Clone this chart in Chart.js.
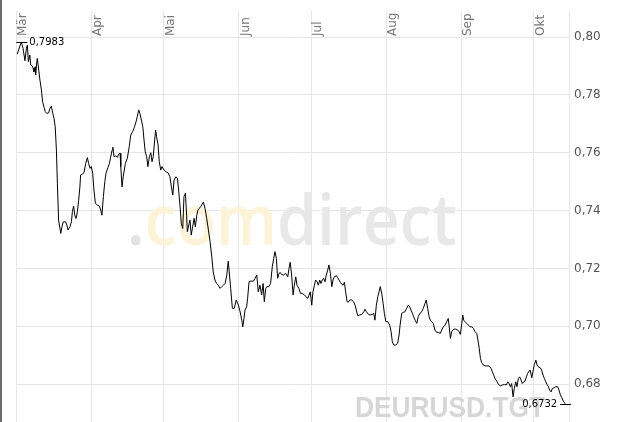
<!DOCTYPE html>
<html>
<head>
<meta charset="utf-8">
<script src="https://cdn.jsdelivr.net/npm/chart.js@4.4.0/dist/chart.umd.min.js"></script>
<style>
  html, body { margin: 0; padding: 0; background: #fff; }
  #wrap { position: relative; width: 621px; height: 422px; box-sizing: border-box; border-left: 2px solid #6b6b6b; overflow: hidden; }
  canvas { display: block; }
</style>
</head>
<body>
<div id="wrap"><canvas id="chart" width="619" height="422"></canvas></div>
<script>
// days since 1 March (2009), DEURUSD.TGT close
const days = [
  0.5, 2.2, 2.9, 3.7, 4.3, 4.7, 5.1, 5.7, 6.1, 6.7, 7.1, 7.4, 7.9, 8.1, 8.6, 8.8, 9.4, 9.9, 10.5, 11.0,
  11.6, 12.1, 12.7, 13.5, 14.0, 14.6, 15.2, 15.7, 16.2, 16.7, 17.1, 17.6, 18.5, 19.0, 19.5, 20.5, 21.0, 21.5, 22.3, 22.9,
  23.3, 23.8, 24.3, 24.8, 25.3, 25.9, 26.4, 26.7, 27.4, 28.1, 28.8, 29.5, 30.0, 30.6, 31.1, 31.7, 32.2, 32.8, 33.6, 34.4,
  35.0, 35.5, 36.1, 36.7, 37.2, 38.0, 38.6, 39.1, 39.7, 40.0, 40.5, 41.2, 41.9, 42.4, 43.0, 43.3, 43.8, 44.3, 45.2, 46.0,
  46.8, 47.4, 48.2, 49.0, 49.6, 50.1, 50.7, 51.2, 51.8, 52.4, 52.9, 53.4, 54.0, 54.5, 55.1, 55.7, 56.2, 56.7, 57.3, 57.7,
  58.1, 58.7, 59.2, 59.8, 60.3, 61.2, 62.0, 62.8, 63.6, 64.2, 64.8, 65.3, 66.1, 66.7, 67.2, 67.8, 68.3, 68.9, 69.4, 70.0,
  70.5, 70.8, 71.4, 71.9, 72.4, 73.0, 73.6, 74.1, 74.7, 75.2, 75.7, 76.3, 77.4, 78.1, 78.8, 79.5, 80.2, 80.9, 81.5, 82.2,
  82.9, 83.6, 84.3, 85.0, 85.7, 86.4, 87.1, 87.7, 88.1, 88.7, 89.4, 90.2, 91.0, 91.9, 92.6, 93.3, 93.7, 94.2, 94.6, 95.3,
  95.7, 96.3, 97.1, 98.1, 98.8, 99.5, 100.1, 100.8, 101.5, 102.1, 102.6, 103.2, 103.7, 104.5, 105.2, 105.9, 106.5, 107.0, 107.6, 108.1,
  108.7, 109.2, 109.8, 110.6, 111.4, 112.3, 112.8, 113.3, 113.9, 114.5, 115.0, 115.6, 116.1, 116.9, 117.5, 118.3, 119.1, 120.0, 120.5, 121.1,
  121.6, 122.2, 122.7, 123.3, 123.8, 124.4, 124.9, 125.5, 126.0, 126.6, 127.1, 127.7, 128.2, 128.8, 129.3, 129.9, 130.5, 131.0, 131.5, 132.4,
  132.9, 133.5, 134.0, 134.6, 135.1, 135.7, 136.2, 136.8, 137.3, 137.9, 138.7, 139.5, 140.1, 140.6, 141.2, 142.0, 142.9, 143.7, 144.2, 144.8,
  145.6, 146.4, 147.2, 147.8, 148.3, 148.9, 149.5, 150.0, 150.5, 151.1, 151.7, 152.2, 152.8, 153.6, 154.4, 155.0, 155.5, 156.1, 156.9, 157.7,
  158.3, 158.7, 159.4, 160.0, 160.7, 161.4, 162.1, 162.7, 163.2, 163.8, 164.3, 164.9, 165.6, 166.2, 166.9, 167.6, 168.3, 169.0, 169.5, 170.1,
  170.7, 171.2, 171.8, 172.4, 173.1, 173.8, 174.5, 175.3, 175.9, 176.6, 177.3, 178.0, 178.6, 179.0, 179.5, 180.0, 180.9, 181.7, 182.5, 183.1,
  183.6, 184.2, 184.6, 185.0, 185.5, 186.2, 186.9, 187.6, 188.3, 189.0, 189.7, 190.4, 191.0, 191.4, 191.9, 192.4, 193.1, 193.8, 194.6, 195.5,
  196.3, 196.8, 197.4, 197.9, 198.8, 199.3, 200.1, 201.0, 201.8, 202.6, 203.2, 203.7, 204.3, 204.8, 205.4, 205.9, 206.5, 207.0, 207.6, 208.1,
  208.7, 209.2, 209.8, 210.3, 210.9, 211.4, 212.0, 212.5, 213.1, 213.6, 214.2, 214.8, 215.3, 215.8, 216.7, 217.2, 217.8, 218.3, 218.9, 219.4,
  220.0, 220.5, 221.1, 221.6, 222.2, 223.0, 223.8, 224.4, 224.9, 225.5, 226.2, 226.9
];
const values = [
  0.7941, 0.7983, 0.7961, 0.7918, 0.7961, 0.7972, 0.7915, 0.7938, 0.7903, 0.7900, 0.7892, 0.7880, 0.7897, 0.7869, 0.7915, 0.7926, 0.7886, 0.7851, 0.7817, 0.7776,
  0.7757, 0.7742, 0.7736, 0.7738, 0.7753, 0.7761, 0.7736, 0.7719, 0.7690, 0.7609, 0.7494, 0.7367, 0.7321, 0.7344, 0.7361, 0.7361, 0.7350, 0.7333, 0.7344, 0.7361,
  0.7396, 0.7416, 0.7384, 0.7373, 0.7392, 0.7436, 0.7482, 0.7523, 0.7526, 0.7531, 0.7563, 0.7583, 0.7563, 0.7546, 0.7552, 0.7529, 0.7471, 0.7425, 0.7419, 0.7416,
  0.7402, 0.7384, 0.7448, 0.7500, 0.7529, 0.7549, 0.7563, 0.7584, 0.7609, 0.7619, 0.7586, 0.7589, 0.7584, 0.7595, 0.7598, 0.7552, 0.7482, 0.7517, 0.7563, 0.7581,
  0.7621, 0.7661, 0.7673, 0.7690, 0.7707, 0.7724, 0.7748, 0.7736, 0.7713, 0.7690, 0.7644, 0.7603, 0.7586, 0.7552, 0.7586, 0.7600, 0.7569, 0.7586, 0.7644, 0.7678,
  0.7655, 0.7627, 0.7569, 0.7540, 0.7552, 0.7540, 0.7534, 0.7531, 0.7517, 0.7482, 0.7454, 0.7506, 0.7517, 0.7511, 0.7471, 0.7413, 0.7356, 0.7338, 0.7448, 0.7460,
  0.7384, 0.7327, 0.7350, 0.7367, 0.7315, 0.7344, 0.7373, 0.7344, 0.7384, 0.7402, 0.7408, 0.7413, 0.7430, 0.7408, 0.7373, 0.7333, 0.7292, 0.7240, 0.7188, 0.7160,
  0.7148, 0.7142, 0.7131, 0.7137, 0.7142, 0.7148, 0.7177, 0.7225, 0.7188, 0.7131, 0.7062, 0.7062, 0.7091, 0.7073, 0.7050, 0.7021, 0.6998, 0.7027, 0.7056, 0.7067,
  0.7096, 0.7154, 0.7156, 0.7156, 0.7166, 0.7177, 0.7119, 0.7142, 0.7108, 0.7148, 0.7085, 0.7131, 0.7137, 0.7137, 0.7148, 0.7206, 0.7235, 0.7258, 0.7235, 0.7166,
  0.7183, 0.7186, 0.7179, 0.7177, 0.7183, 0.7171, 0.7200, 0.7221, 0.7177, 0.7108, 0.7142, 0.7171, 0.7142, 0.7131, 0.7114, 0.7114, 0.7108, 0.7102, 0.7096, 0.7108,
  0.7119, 0.7073, 0.7119, 0.7142, 0.7160, 0.7154, 0.7142, 0.7160, 0.7148, 0.7160, 0.7166, 0.7154, 0.7177, 0.7194, 0.7212, 0.7183, 0.7137, 0.7160, 0.7171, 0.7175,
  0.7168, 0.7160, 0.7152, 0.7145, 0.7142, 0.7152, 0.7119, 0.7085, 0.7083, 0.7091, 0.7091, 0.7085, 0.7073, 0.7056, 0.7036, 0.7039, 0.7041, 0.7050, 0.7059, 0.7050,
  0.7041, 0.7039, 0.7041, 0.7045, 0.7021, 0.7073, 0.7102, 0.7119, 0.7137, 0.7114, 0.7079, 0.7045, 0.7016, 0.7016, 0.7004, 0.6981, 0.6946, 0.6935, 0.6935, 0.6941,
  0.6970, 0.7004, 0.7045, 0.7048, 0.7050, 0.7062, 0.7073, 0.7067, 0.7056, 0.7045, 0.7033, 0.7021, 0.7010, 0.7033, 0.7045, 0.7050, 0.7062, 0.7079, 0.7091, 0.7062,
  0.7033, 0.7021, 0.7016, 0.7010, 0.6987, 0.6979, 0.6979, 0.6975, 0.6987, 0.6998, 0.7004, 0.7016, 0.7027, 0.6998, 0.6958, 0.6981, 0.6990, 0.6990, 0.6987, 0.6981,
  0.6972, 0.7010, 0.7039, 0.7021, 0.7016, 0.7010, 0.7004, 0.6998, 0.6998, 0.6993, 0.6981, 0.6975, 0.6946, 0.6924, 0.6889, 0.6875, 0.6866, 0.6863, 0.6863, 0.6863,
  0.6854, 0.6843, 0.6831, 0.6820, 0.6808, 0.6799, 0.6794, 0.6797, 0.6799, 0.6797, 0.6808, 0.6802, 0.6791, 0.6802, 0.6756, 0.6785, 0.6808, 0.6791, 0.6820, 0.6825,
  0.6814, 0.6802, 0.6808, 0.6810, 0.6825, 0.6837, 0.6845, 0.6848, 0.6822, 0.6843, 0.6868, 0.6883, 0.6866, 0.6860, 0.6856, 0.6848, 0.6831, 0.6820, 0.6808, 0.6799,
  0.6791, 0.6779, 0.6773, 0.6785, 0.6787, 0.6791, 0.6791, 0.6779, 0.6764, 0.6753, 0.6741, 0.6732
];
const monthStarts = [0, 31, 61, 92, 122, 153, 184, 214];
const monthLabels = ['Mär', 'Apr', 'Mai', 'Jun', 'Jul', 'Aug', 'Sep', 'Okt'];
const yTicks = [0.68, 0.70, 0.72, 0.74, 0.76, 0.78, 0.80];

const fmt = (v, d) => v.toFixed(d).replace('.', ',');

const iMax = values.indexOf(Math.max(...values));
const iMin = values.lastIndexOf(Math.min(...values));

// watermark, month labels and the min/max markers
const decor = {
  id: 'decor',
  beforeDatasetsDraw(chart) {
    const ctx = chart.ctx;
    ctx.save();
    ctx.font = '600 70px "Open Sans"';
    ctx.textBaseline = 'alphabetic';
    const parts = [['.', '#e2e2e2'], ['com', '#fdf3d8'], ['direct', '#e8e8e8']];
    const total = parts.reduce((s, p) => s + ctx.measureText(p[0]).width, 0);
    ctx.translate(125, 245);
    ctx.scale(330 / total, 1);
    let x = 0;
    for (const [t, c] of parts) {
      ctx.fillStyle = c;
      ctx.fillText(t, x, 0);
      x += ctx.measureText(t).width;
    }
    ctx.restore();

    ctx.save();
    ctx.font = 'bold 30px "Liberation Sans"';
    const w = ctx.measureText('DEURUSD.TGT').width;
    ctx.translate(353, 417);
    ctx.scale(190 / w, 1);
    ctx.fillStyle = '#d6d6d6';
    ctx.fillText('DEURUSD.TGT', 0, 0);
    ctx.restore();
  },
  afterDatasetsDraw(chart) {
    const ctx = chart.ctx;
    const xs = chart.scales.x, ys = chart.scales.y;
    ctx.save();
    ctx.font = '12px "DejaVu Sans"';
    ctx.fillStyle = '#777';
    ctx.textAlign = 'left';
    ctx.textBaseline = 'alphabetic';
    xs.ticks.forEach((t, i) => {
      const px = xs.getPixelForValue(t.value);
      ctx.save();
      ctx.translate(Math.round(px) + 10, 36);
      ctx.rotate(-Math.PI / 2);
      ctx.fillText(monthLabels[i], 0, 0);
      ctx.restore();
    });

    ctx.strokeStyle = '#000';
    ctx.lineWidth = 1;
    ctx.fillStyle = '#000';
    ctx.font = '10px "DejaVu Sans"';
    ctx.textBaseline = 'middle';

    const mx = xs.getPixelForValue(days[iMax]), my = Math.round(ys.getPixelForValue(values[iMax])) + 0.5;
    ctx.beginPath();
    ctx.moveTo(mx - 5, my);
    ctx.lineTo(mx + 6, my);
    ctx.stroke();
    ctx.textAlign = 'left';
    ctx.fillText(fmt(values[iMax], 4), mx + 8, my);

    const nx = xs.getPixelForValue(days[iMin]), ny = Math.round(ys.getPixelForValue(values[iMin])) + 0.5;
    ctx.beginPath();
    ctx.moveTo(nx - 5, ny);
    ctx.lineTo(nx + 6, ny);
    ctx.stroke();
    ctx.textAlign = 'right';
    ctx.fillText(fmt(values[iMin], 4), nx - 8, ny);
    ctx.restore();
  }
};

new Chart(document.getElementById('chart'), {
  type: 'line',
  data: {
    datasets: [{
      data: days.map((d, i) => ({ x: d, y: values[i] })),
      borderColor: '#000',
      borderWidth: 1,
      pointRadius: 0,
      tension: 0,
      fill: false
    }]
  },
  options: {
    responsive: false,
    animation: false,
    events: [],
    layout: { padding: { left: 14, top: 11, right: 0, bottom: 0 } },
    plugins: { legend: { display: false }, tooltip: { enabled: false } },
    scales: {
      x: {
        type: 'linear',
        position: 'top',
        min: 0,
        max: 228.5,
        afterBuildTicks: s => { s.ticks = monthStarts.map(v => ({ value: v })); },
        afterFit: s => { s.height = 0; s.paddingLeft = 0; s.paddingRight = 0; },
        ticks: { display: false },
        grid: { color: '#e6e6e6', drawTicks: false },
        border: { display: false }
      },
      y: {
        position: 'right',
        min: 0.6669,
        max: 0.809,
        afterBuildTicks: s => { s.ticks = yTicks.map(v => ({ value: v })); },
        afterFit: s => { s.width = 52; s.paddingTop = 0; s.paddingBottom = 0; },
        ticks: {
          padding: 5,
          color: '#555',
          font: { family: 'DejaVu Sans', size: 12 },
          callback: v => fmt(v, 2)
        },
        grid: { color: '#e6e6e6', drawTicks: false },
        border: { display: true, color: '#e6e6e6' }
      }
    }
  },
  plugins: [decor]
});
</script>
</body>
</html>
